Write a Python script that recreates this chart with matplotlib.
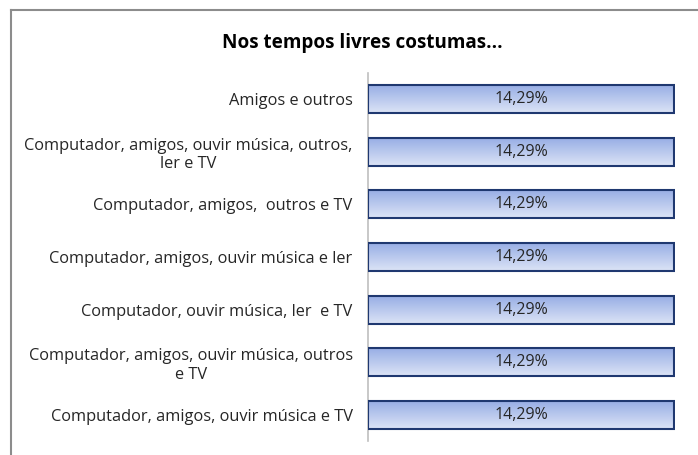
import matplotlib
matplotlib.use("Agg")
import matplotlib.pyplot as plt
import numpy as np
from matplotlib.colors import LinearSegmentedColormap
from matplotlib.lines import Line2D

categories = [
    "Amigos e outros",
    "Computador, amigos, ouvir música, outros,\nler e TV",
    "Computador, amigos,  outros e TV",
    "Computador, amigos, ouvir música e ler",
    "Computador, ouvir música, ler  e TV",
    "Computador, amigos, ouvir música, outros\ne TV",
    "Computador, amigos, ouvir música e TV",
]
values = [14.29, 14.29, 14.29, 14.29, 14.29, 14.29, 14.29]
value_labels = ["14,29%"] * 7
title = "Nos tempos livres costumas..."

plt.rcParams['font.family'] = ['Open Sans', 'DejaVu Sans']

fig = plt.figure(figsize=(6.98, 4.55), dpi=100)
ax = fig.add_axes([368/698, 1-441.3/455, (675-368)/698, (441.3-72.7)/455])

y = np.arange(len(categories))
h = 0.53
bars = ax.barh(y, values, height=h, facecolor='none', edgecolor='#1F3870', linewidth=1.5, zorder=3)

cmap = LinearSegmentedColormap.from_list('g', ['#98AEE5', '#DCE4F6'])
grad = np.linspace(0, 1, 100).reshape(-1, 1)
for b, yi, v in zip(bars, y, values):
    im = ax.imshow(grad, cmap=cmap, aspect='auto', extent=(0, v, yi + h/2, yi - h/2),
                   origin='upper', zorder=2, interpolation='bilinear')
    im.set_clip_path(b)

for yi, v, lab in zip(y, values, value_labels):
    ax.text(v/2, yi, lab, ha='center', va='center', fontsize=11.5, color='#262626', zorder=4)

ax.set_xlim(0, 14.29 * 1.003)
ax.set_ylim(len(categories) - 0.5, -0.5)
ax.set_yticks(y)
ax.set_yticklabels(categories, fontsize=11.8, color='#262626', multialignment='center',
                   linespacing=1.2)
ax.tick_params(axis='y', length=0, pad=11)
ax.set_xticks([])
for s in ['top', 'right', 'bottom']:
    ax.spines[s].set_visible(False)
ax.spines['left'].set_color('#BFBFBF')
ax.spines['left'].set_linewidth(1.2)

fig.text(362/698, 1-43/455, title, ha='center', va='center', fontsize=13.6, fontweight='bold', color='#000000')

fig.add_artist(Line2D([10.5/698, 1], [1-9.5/455, 1-9.5/455], transform=fig.transFigure, color='#8C8C8C', linewidth=1.5))
fig.add_artist(Line2D([10.5/698, 10.5/698], [0, 1-9.5/455], transform=fig.transFigure, color='#8C8C8C', linewidth=1.5))

fig.savefig('out.png', dpi=100, facecolor='white')
